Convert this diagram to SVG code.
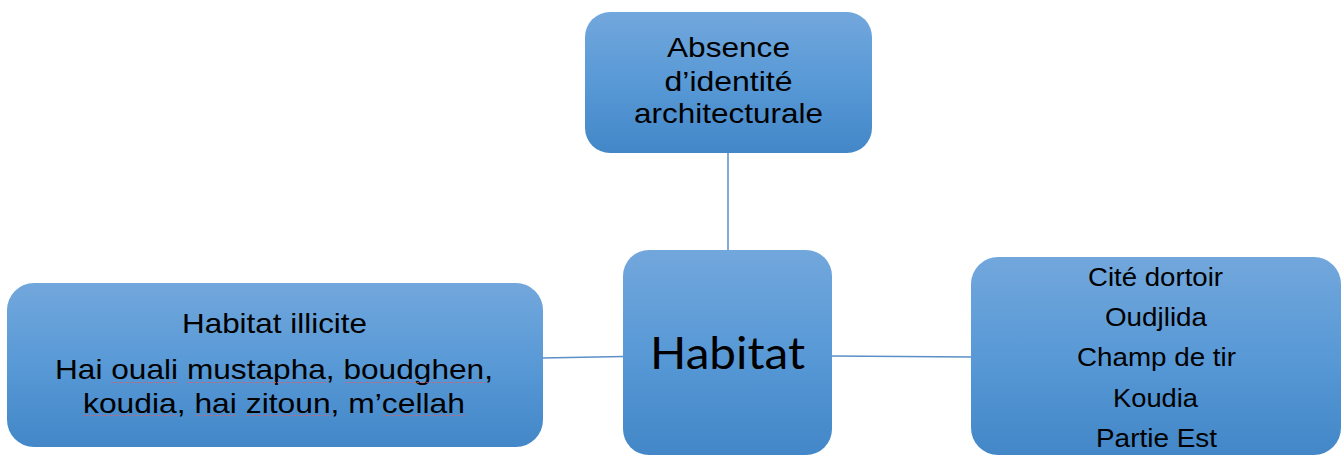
<svg xmlns="http://www.w3.org/2000/svg" width="1343" height="455" viewBox="0 0 1343 455">
<defs>
<linearGradient id="g" x1="0" y1="0" x2="0" y2="1">
<stop offset="0" stop-color="#72a7dc"/>
<stop offset="0.5" stop-color="#5899d6"/>
<stop offset="1" stop-color="#4387c8"/>
</linearGradient>
</defs>
<style>
.box{fill:url(#g);}
.t{font-family:"Liberation Sans",Arial,sans-serif;fill:#000;text-anchor:middle;}
.c{font-family:Lato,"Noto Sans",sans-serif;fill:#000;text-anchor:middle;}
.conn{stroke:#5b8fc7;stroke-width:1.5;fill:none;}
.sp{stroke:#d9606a;stroke-width:1;stroke-dasharray:2 1;fill:none;opacity:0.75;}
</style>
<rect width="1343" height="455" fill="#fff"/>
<g id="connectors">
<line class="conn" x1="728" y1="153" x2="728" y2="251"/>
<line class="conn" x1="542" y1="358" x2="624" y2="356.5"/>
<line class="conn" x1="831" y1="356" x2="972" y2="357"/>
</g>
<g id="node-top">
<rect class="box" x="585" y="12" width="287" height="141" rx="25" ry="25"/>
<text class="t" font-size="28" x="728.5" y="57" textLength="123" lengthAdjust="spacingAndGlyphs">Absence</text>
<text class="t" font-size="28" x="728.5" y="91" textLength="128" lengthAdjust="spacingAndGlyphs">d’identité</text>
<text class="t" font-size="28" x="728.5" y="123" textLength="189" lengthAdjust="spacingAndGlyphs">architecturale</text>
</g>
<g id="node-center">
<rect class="box" x="623" y="250" width="209" height="205" rx="26" ry="26"/>
<text class="c" font-size="45" x="727.5" y="369" textLength="155" lengthAdjust="spacingAndGlyphs">Habitat</text>
</g>
<g id="node-left">
<rect class="box" x="7" y="283" width="536" height="164" rx="27" ry="27"/>
<text class="t" font-size="28" x="274.5" y="333" textLength="185" lengthAdjust="spacingAndGlyphs">Habitat illicite</text>
<text class="t" font-size="28" x="274" y="379" textLength="438" lengthAdjust="spacingAndGlyphs">Hai ouali mustapha, boudghen,</text>
<text class="t" font-size="28" x="274" y="413" textLength="382" lengthAdjust="spacingAndGlyphs">koudia, hai zitoun, m’cellah</text>
<path class="sp" d="M111,382.5H178M187,382.5H327M345,382.5H486M83,415.5H177M195,415.5H237M246,415.5H331M383,415.5H465"/>
</g>
<g id="node-right">
<rect class="box" x="971" y="257" width="370" height="198" rx="27" ry="27"/>
<text class="t" font-size="26" x="1155.5" y="286" textLength="135" lengthAdjust="spacingAndGlyphs">Cité dortoir</text>
<text class="t" font-size="26" x="1156" y="326" textLength="102" lengthAdjust="spacingAndGlyphs">Oudjlida</text>
<text class="t" font-size="26" x="1156.5" y="366" textLength="159" lengthAdjust="spacingAndGlyphs">Champ de tir</text>
<text class="t" font-size="26" x="1155.5" y="407" textLength="85" lengthAdjust="spacingAndGlyphs">Koudia</text>
<text class="t" font-size="26" x="1156.5" y="447" textLength="121" lengthAdjust="spacingAndGlyphs">Partie Est</text>
</g>
</svg>
